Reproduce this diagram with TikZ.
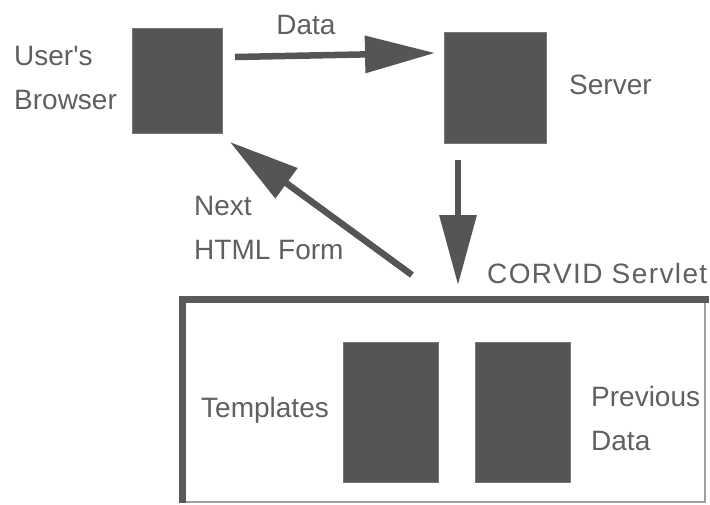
\documentclass[tikz,border=0pt]{standalone}
\usepackage{fontspec}
\setmainfont{Liberation Sans}
\usetikzlibrary{arrows.meta}
\definecolor{boxgray}{HTML}{555555}
\definecolor{txtgray}{HTML}{606060}
\definecolor{framegray}{HTML}{5A5A5A}
\tikzset{
  blk/.style={fill=boxgray, draw=boxgray!80, line width=0.8pt, inner sep=0pt},
  lbl/.style={text=txtgray, font=\fontsize{28}{44}\selectfont, inner sep=0pt, align=left},
  bigarrow/.style={draw=boxgray, line width=6.5pt, -{Triangle[length=70pt,width=36pt]}},
}
\begin{document}
\begin{tikzpicture}[x=1pt,y=-1pt]
\useasboundingbox[fill=white] (0,0) rectangle (710,504);
% boxes
\node[blk, minimum width=90pt, minimum height=105pt] (browser) at (177,80.5) {};
\node[blk, minimum width=102pt, minimum height=111pt] (server) at (495,87.5) {};
\node[draw=gray!75, line width=1.5pt, minimum width=522pt, minimum height=202pt, inner sep=0pt] (corvid) at (444,401) {};
\draw[framegray, line width=7pt, line cap=butt] (corvid.south west) -- (corvid.north west) -- ([xshift=3pt]corvid.north east);
\node[blk, minimum width=95pt, minimum height=140pt] (templ) at (390.5,412) {};
\node[blk, minimum width=95pt, minimum height=140pt] (prev) at (522.5,412) {};
% labels
\node[lbl, anchor=west] (lbrowser) at (14,78) {User\textquotesingle s\\Browser};
\node[lbl, anchor=center] (ldata) at (306,25) {Data};
\node[lbl, anchor=west] (lserver) at (569,85) {Server};
\node[lbl, anchor=west] (lnext) at (194,228) {Next\\HTML Form};
\node[lbl, anchor=west] (lcorvid) at (487,273) {\addfontfeatures{LetterSpace=5}CORVID Servlet};
\node[lbl, anchor=west] (ltempl) at (201,410) {Templates};
\node[lbl, anchor=west] (lprev) at (591,418) {Previous\\Data};
% connector end points
\coordinate (d1) at (235,57);
\coordinate (d2) at (435,53);
\coordinate (s1) at (458,160);
\coordinate (s2) at (458,285);
\coordinate (n1) at (412,275);
\coordinate (n2) at (230,142);
\draw[bigarrow] (d1) -- (d2);
\draw[bigarrow] (s1) -- (s2);
\draw[bigarrow] (n1) -- (n2);
\end{tikzpicture}
\end{document}
